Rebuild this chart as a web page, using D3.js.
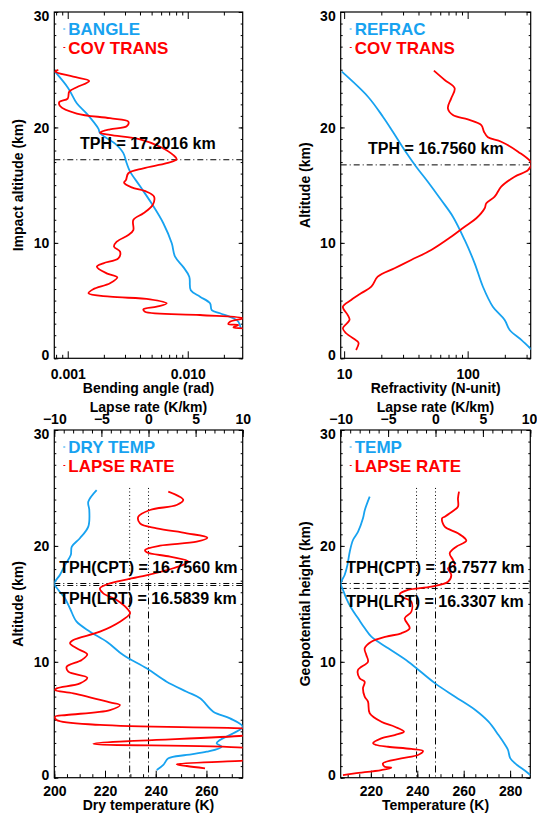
<!DOCTYPE html>
<html>
<head>
<meta charset="utf-8">
<script src="https://cdn.jsdelivr.net/npm/d3@7"></script>
<style>
body { margin: 0; background: #fff; }
text { font-family: "Liberation Sans", Arial, sans-serif; font-weight: bold; }
</style>
</head>
<body>
<div id="chart"></div>
<script>
// ---------------- data: [altitude km, value] ----------------
var bangle = [[24.83,0.000784],[23.4,0.00101],[22.1,0.00119],[21.2,0.00144],[19.9,0.00180],[19.5,0.00186],
  [18.6,0.00248],[17.8,0.00290],[16.9,0.00310],[16.2,0.00330],[14.9,0.00401],[13.4,0.00501],[11.7,0.00626],
  [9.96,0.00736],[8.8,0.00784],[7.9,0.00919],[7.07,0.0103],[5.9,0.0106],[5.34,0.01266],[4.76,0.01534],
  [4.18,0.01584],[3.9,0.01858],[3.47,0.02399],[3.17,0.02642],[2.6,0.02766]];

var covTransBangle = [[24.98,0.000835],[24.83,0.000784],[24.4,0.00111],[24.02,0.00151],[23.48,0.00119],[23.1,0.00103],
  [22.5,0.00100],[22.2,0.000851],[21.86,0.000863],[21.2,0.00119],[20.8,0.00225],[20.5,0.0032],[20.1,0.0031],
  [19.84,0.00225],[19.55,0.00186],[19.35,0.00225],[18.97,0.00401],[18.33,0.00588],[17.6,0.00759],[17.24,0.00809],
  [16.9,0.00668],[16.46,0.00427],[16.03,0.0032],[15.45,0.00306],[15.21,0.00295],[14.81,0.00341],[14.43,0.00455],
  [14.0,0.00524],[13.28,0.0051],[12.56,0.00427],[11.98,0.00352],[11.11,0.00352],[10.68,0.0032],[10.1,0.00256],
  [9.67,0.00243],[9.24,0.00273],[8.66,0.00264],[8.23,0.00198],[7.94,0.00175],[7.36,0.00211],[7.02,0.00259],
  [6.5,0.00225],[5.98,0.00163],[5.63,0.00149],[5.34,0.00225],[5.11,0.00485],[4.76,0.00668],[4.47,0.00552],
  [4.24,0.00427],[4.04,0.0044],[3.75,0.01266],[3.47,0.0290],[3.17,0.0225],[2.97,0.0218],[2.88,0.0264],
  [2.68,0.024],[2.6,0.029]];

var refrac = [[24.83,9.58],[22.66,15.6],[20.93,20.6],[19.63,24.8],[18.05,30.8],[16.6,38.3],[15.3,47.6],
  [13.71,61.1],[12.27,76],[10.25,94.6],[8.23,114],[6.2,133],[4.47,160],[3.32,199.5],[2.45,219],[1.59,272],[0.78,327]];

var covTransRefrac = [[24.92,53.3],[24.11,65.2],[23.4,78.5],[22.52,73.6],[21.66,69.2],[21.08,76],[20.7,100.5],
  [20.21,129],[19.63,135.6],[19.15,146],[18.76,187],[17.9,256],[16.89,328],[16.3,308],[15.73,240],[14.87,187],
  [14.0,165.5],[13.43,141.6],[13.0,137.4],[12.13,117.5],[11.4,94.6],[10.53,73.6],[9.38,50.7],[8.52,34.9],
  [7.8,25.6],[7.07,18.7],[6.2,16.6],[5.63,13.7],[5.05,11.4],[4.47,9.77],[3.75,10.7],[3.32,11.06],[2.6,9.77],
  [2.17,10.38],[1.44,12.9],[1.3,13.1],[0.72,12.5]];

var dryTemp = [[24.82,216.7],[23.81,213.4],[23.1,213.8],[21.66,213.4],[20.66,210.1],[19.93,206.9],[19.21,206.5],
  [18.35,204.2],[17.49,202.2],[16.76,200.0],[16.2,201.6],[15.48,204.2],[14.6,206.2],[13.46,208.8],[12.6,214.1],
  [11.73,220.7],[10.59,227.2],[9.44,236.4],[8.28,244.3],[7.42,252.2],[6.85,257.5],[5.7,262.7],[5.12,269.3],
  [4.4,274.3],[3.83,270.6],[3.25,265.3],[2.97,264],[2.67,266],[2.24,260.1],[1.96,252.2],[1.67,245],[1.1,243],[0.66,240.4]];

var lapseDry = [[24.68,2.10],[23.96,3.69],[23.53,2.99],[23.1,0.16],[22.52,-1.08],[21.95,-0.9],[21.52,0.87],
  [21.09,4.06],[20.71,6.24],[20.36,5.12],[20.02,1.22],[19.65,-0.37],[19.45,-0.19],[19.07,2.28],[18.64,4.23],
  [18.07,2.63],[17.34,-0.9],[16.77,-4.09],[16.34,-5.15],[15.91,-4.8],[15.33,-3.38],[14.47,-2.14],[14.18,-1.96],
  [13.46,-3.03],[12.6,-5.15],[11.88,-7.98],[11.6,-8.33],[11.16,-7.62],[10.65,-6.5],[10.16,-7.09],[9.58,-8.68],
  [9.15,-8.51],[8.63,-6.5],[8.14,-7.27],[7.71,-9.75],[7.57,-9.93],[7.28,-7.98],[6.5,-4.09],[6.27,-3.03],
  [5.84,-4.09],[5.41,-8.68],[5.26,-9.93],[4.98,-9.75],[4.55,-5.15],[4.26,10],[4.05,13],[3.8,12],[3.62,10],
  [2.93,-5.86],[2.59,10],[2.2,13],[1.7,13],[1.47,10],[1.16,2.99],[1.01,4.06],[0.81,6.0]];

var temp = [[24.25,219.5],[23.1,217.4],[22.38,216.6],[21.23,214.5],[20.51,212.3],[19.5,210.9],[18.35,209.9],
  [17.49,208.7],[16.76,207.0],[16.2,208.0],[15.48,209.4],[14.62,211.6],[13.75,214.5],[12.89,217.4],[12.17,220.2],
  [11.16,227.5],[10.01,236.1],[8.14,247.7],[6.99,256.3],[5.84,265.0],[4.83,270.7],[3.68,275.0],[2.82,277.9],
  [2.39,279.1],[1.67,280.1],[1.1,283.0],[0.58,286.6],[0.23,288.7]];

var lapseTemp = [[24.68,2.48],[24.11,2.37],[23.38,2.37],[23.01,1.85],[22.52,0.97],[22.38,0.69],[21.66,0.97],
  [21.09,2.37],[20.45,3.25],[19.93,2.19],[19.36,1.5],[18.78,1.85],[18.35,2.03],[18.07,1.32],[17.49,1.67],
  [16.91,1.32],[16.48,-0.44],[16.2,-2.9],[15.82,-3.78],[15.62,-3.61],[15.19,-2.55],[14.32,-2.55],[13.75,-3.25],
  [12.89,-2.72],[12.46,-3.61],[12.17,-5.19],[11.73,-6.77],[11.16,-7.47],[10.59,-7.3],[10.01,-7.12],[9.29,-8.18],
  [8.58,-8.0],[8.28,-7.47],[7.71,-7.65],[6.99,-7.47],[6.56,-7.12],[5.56,-6.94],[4.83,-5.72],[4.4,-4.3],
  [3.97,-3.32],[3.68,-4.3],[3.4,-5.72],[2.97,-6.59],[2.82,-6.24],[2.67,-5.01],[2.48,-2.55],[2.3,-1.32],
  [1.96,-1.85],[1.67,-3.61],[1.24,-5.54],[0.95,-5.36],[0.86,-4.66],[0.66,-5.72],[0.38,-8.52],[0.23,-9.76]];

var altTicks = [0, 10, 20, 30];
var lapseTicks = [-10, -5, 0, 5, 10];
var lapseLines = [-2, 0];   // reference lapse rates, K/km

var blue = "#17a2f0";
var red = "#ff0000";

var svg = d3.select("#chart").append("svg")
    .attr("width", 537)
    .attr("height", 815);

// --------- helpers ---------
function axisStyle(g) {
  g.select(".domain").remove();
  g.selectAll("line").attr("stroke", "#000").attr("stroke-width", 1);
  g.selectAll("text").attr("fill", "#000").style("font-size", "14px");
}

function drawPanel(p) {
  var x = p.x.range([p.x0, p.x1]);
  var y = d3.scaleLinear().domain([0, 30]).range([p.y1, p.y0]);
  var inX = function(v) { var d = x.domain(); return v >= Math.min(d[0], d[1]) - 1e-9 && v <= Math.max(d[0], d[1]) + 1e-9; };

  svg.append("clipPath").attr("id", "clip" + p.id)
    .append("rect")
    .attr("x", p.x0).attr("y", p.y0)
    .attr("width", p.x1 - p.x0).attr("height", p.y1 - p.y0);

  // y axes (left with labels, right without)
  svg.append("g").attr("transform", "translate(" + p.x0 + ",0)")
    .call(d3.axisLeft(y).tickValues(d3.range(0, 31, 1)).tickSize(-2).tickFormat(""))
    .call(axisStyle);
  svg.append("g").attr("transform", "translate(" + p.x0 + ",0)")
    .call(d3.axisLeft(y).tickValues(altTicks).tickSize(-4).tickPadding(5).tickFormat(d3.format("d")))
    .call(axisStyle)
    .selectAll("text")
    .attr("dy", function(d) { return d == 30 ? "0.6em" : (d == 0 ? "0.1em" : "0.35em"); });
  svg.append("g").attr("transform", "translate(" + p.x1 + ",0)")
    .call(d3.axisRight(y).tickValues(d3.range(0, 31, 1)).tickSize(-2).tickFormat(""))
    .call(axisStyle);
  svg.append("g").attr("transform", "translate(" + p.x1 + ",0)")
    .call(d3.axisRight(y).tickValues(altTicks).tickSize(-4).tickFormat(""))
    .call(axisStyle);

  // bottom axis
  svg.append("g").attr("transform", "translate(0," + p.y1 + ")")
    .call(d3.axisBottom(x).tickValues(p.xMinor.filter(inX)).tickSize(-3.5).tickFormat(""))
    .call(axisStyle);
  svg.append("g").attr("transform", "translate(0," + p.y1 + ")")
    .call(d3.axisBottom(x).tickValues(p.xMajor.filter(inX)).tickSize(-7).tickFormat(p.xFmt))
    .call(axisStyle)
    .selectAll("text").attr("y", p.tickLabelY).attr("dy", 0);

  svg.append("text")
    .attr("x", (p.x0 + p.x1) / 2).attr("y", p.y1 + p.titleY)
    .attr("text-anchor", "middle").style("font-size", "14px")
    .text(p.xTitle);

  // top axis
  if (p.top) {
    var xt = p.top.range([p.x0, p.x1]);
    svg.append("g").attr("transform", "translate(0," + p.y0 + ")")
      .call(d3.axisTop(xt).tickValues(d3.range(-10, 10.5, 1)).tickSize(-3.5).tickFormat(""))
      .call(axisStyle);
    svg.append("g").attr("transform", "translate(0," + p.y0 + ")")
      .call(d3.axisTop(xt).tickValues(lapseTicks).tickSize(-7).tickFormat(d3.format("d")))
      .call(axisStyle)
      .selectAll("text").attr("y", -6).attr("dy", 0)
      .attr("dx", function(d) { return (d == 10 && p.x1 + 8 > 537) ? -(p.x1 + 8 - 537) : 0; });
    svg.append("text")
      .attr("x", (p.x0 + p.x1) / 2).attr("y", p.y0 - 18.5)
      .attr("text-anchor", "middle").style("font-size", "14px")
      .text("Lapse rate (K/km)");
  } else {
    svg.append("g").attr("transform", "translate(0," + p.y0 + ")")
      .call(d3.axisTop(x).tickValues(p.xMinor.filter(inX)).tickSize(-3.5).tickFormat(""))
      .call(axisStyle);
    svg.append("g").attr("transform", "translate(0," + p.y0 + ")")
      .call(d3.axisTop(x).tickValues(p.xMajor.filter(inX)).tickSize(-7).tickFormat(""))
      .call(axisStyle);
  }

  // y title
  svg.append("text")
    .attr("transform", "translate(" + p.yTitleX + "," + (p.y0 + p.y1) / 2 + ") rotate(-90)")
    .attr("text-anchor", "middle").style("font-size", "14px")
    .text(p.yTitle);

  // frame
  svg.append("rect")
    .attr("x", p.x0).attr("y", p.y0)
    .attr("width", p.x1 - p.x0).attr("height", p.y1 - p.y0)
    .attr("fill", "none").attr("stroke", "#000").attr("stroke-width", 1.2);

  var plot = svg.append("g").attr("clip-path", "url(#clip" + p.id + ")");

  // reference lines: dotted above the cold point, dash-dot below
  if (p.top) {
    lapseLines.forEach(function(l) {
      plot.append("line")
        .attr("x1", xt(l)).attr("x2", xt(l))
        .attr("y1", y(25)).attr("y2", y(p.tph[0].h))
        .attr("stroke", "#000").attr("stroke-width", 1)
        .attr("stroke-dasharray", "1,2.5");
      plot.append("line")
        .attr("x1", xt(l)).attr("x2", xt(l))
        .attr("y1", y(p.tph[0].h)).attr("y2", y(0))
        .attr("stroke", "#000").attr("stroke-width", 1)
        .attr("stroke-dasharray", "7,3,1,3");
    });
  }
  p.tph.forEach(function(t) {
    plot.append("line")
      .attr("x1", p.x0).attr("x2", p.x1)
      .attr("y1", y(t.h)).attr("y2", y(t.h))
      .attr("stroke", "#000").attr("stroke-width", 1)
      .attr("stroke-dasharray", "6,3,1,3");
  });

  // curves
  p.series.forEach(function(s) {
    var sx = s.top ? xt : x;
    var line = d3.line()
      .x(function(d) { return sx(d[1]); })
      .y(function(d) { return y(d[0]); })
      .curve(d3.curveCatmullRom.alpha(0.5));
    plot.append("path")
      .datum(s.data)
      .attr("d", line)
      .attr("fill", "none")
      .attr("stroke", s.color)
      .attr("stroke-width", 1.8);
  });

  // legend
  p.legend.forEach(function(l, i) {
    var ly = p.y0 + 23 + i * 18.5;
    svg.append("line")
      .attr("x1", p.x0 + 9).attr("x2", p.x0 + 11)
      .attr("y1", ly - 6).attr("y2", ly - 6)
      .attr("stroke", l.color).attr("stroke-width", 1);
    svg.append("text")
      .attr("x", p.x0 + 14).attr("y", ly)
      .attr("fill", l.color).style("font-size", "17px")
      .text(l.name);
  });

  // TPH labels
  p.tph.forEach(function(t) {
    svg.append("text")
      .attr("x", p.x0 + p.tphX)
      .attr("y", y(t.h) + (t.below ? 19 : -10.5))
      .style("font-size", "16px")
      .text(t.label);
  });
}

drawPanel({
  id: 1, x0: 54.3, x1: 242.7, y0: 12, y1: 358.3,
  x: d3.scaleLog().domain([0.000773, 0.0287]),
  xMajor: [0.001, 0.01],
  xMinor: [0.0008, 0.0009, 0.002, 0.003, 0.004, 0.005, 0.006, 0.007, 0.008, 0.009, 0.02],
  xFmt: d3.format(".3f"),
  tickLabelY: 21, titleY: 34.5,
  xTitle: "Bending angle (rad)", yTitle: "Impact altitude (km)", yTitleX: 23,
  series: [{data: bangle, color: blue}, {data: covTransBangle, color: red}],
  legend: [{name: "BANGLE", color: blue}, {name: "COV TRANS", color: red}],
  tph: [{h: 17.2016, label: "TPH = 17.2016 km"}], tphX: 25.7
});

drawPanel({
  id: 2, x0: 340.7, x1: 530.7, y0: 12, y1: 358.3,
  x: d3.scaleLog().domain([9.38, 324]),
  xMajor: [10, 100],
  xMinor: [20, 30, 40, 50, 60, 70, 80, 90, 200, 300],
  xFmt: d3.format("d"),
  tickLabelY: 21, titleY: 34.5,
  xTitle: "Refractivity (N-unit)", yTitle: "Altitude (km)", yTitleX: 310,
  series: [{data: refrac, color: blue}, {data: covTransRefrac, color: red}],
  legend: [{name: "REFRAC", color: blue}, {name: "COV TRANS", color: red}],
  tph: [{h: 16.756, label: "TPH = 16.7560 km"}], tphX: 27.3
});

drawPanel({
  id: 3, x0: 54.3, x1: 242.7, y0: 430, y1: 777.7,
  x: d3.scaleLinear().domain(d3.extent(dryTemp, function(d) { return d[1]; })),
  top: d3.scaleLinear().domain([-10, 10]),
  xMajor: [200, 220, 240, 260],
  xMinor: d3.range(200, 276, 5),
  xFmt: d3.format("d"),
  tickLabelY: 18, titleY: 32,
  xTitle: "Dry temperature (K)", yTitle: "Altitude (km)", yTitleX: 23,
  series: [{data: dryTemp, color: blue}, {data: lapseDry, color: red, top: true}],
  legend: [{name: "DRY TEMP", color: blue}, {name: "LAPSE RATE", color: red}],
  tph: [{h: 16.756, label: "TPH(CPT) = 16.7560 km"}, {h: 16.5839, label: "TPH(LRT) = 16.5839 km", below: true}],
  tphX: 5
});

drawPanel({
  id: 4, x0: 340.7, x1: 530.3, y0: 430, y1: 777.7,
  x: d3.scaleLinear().domain(d3.extent(temp, function(d) { return d[1]; })),
  top: d3.scaleLinear().domain([-10, 10]),
  xMajor: [220, 240, 260, 280],
  xMinor: d3.range(205, 295, 5),
  xFmt: d3.format("d"),
  tickLabelY: 18, titleY: 32,
  xTitle: "Temperature (K)", yTitle: "Geopotential height (km)", yTitleX: 310,
  series: [{data: temp, color: blue}, {data: lapseTemp, color: red, top: true}],
  legend: [{name: "TEMP", color: blue}, {name: "LAPSE RATE", color: red}],
  tph: [{h: 16.7577, label: "TPH(CPT) = 16.7577 km"}, {h: 16.3307, label: "TPH(LRT) = 16.3307 km", below: true}],
  tphX: 5.6
});
</script>
</body>
</html>
